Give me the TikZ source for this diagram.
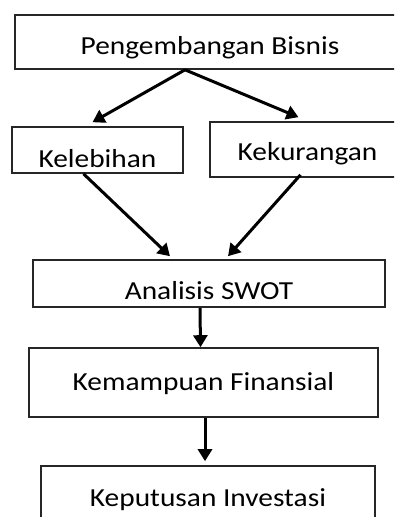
\documentclass[tikz,border=0pt]{standalone}
\usepackage{fontspec}
\setmainfont{Carlito}[FakeStretch=1.13]
\usetikzlibrary{arrows.meta}

\begin{document}
\begin{tikzpicture}[x=1pt,y=-1pt]

        \useasboundingbox (0,0) rectangle (394,517);
        \clip (0,0) rectangle (394,517);

        \begin{scope}[every node/.style={draw=black!85, line width=1.6pt, inner sep=0pt, text depth=0pt,
            font=\fontsize{26}{30}\selectfont}]
          \node[minimum width=390pt, minimum height=54pt, text height=24pt] (1) at (210,42)    {Pengembangan Bisnis};
          \node[minimum width=171pt, minimum height=46pt, text height=34pt] (2) at (97.5,150)  {Kelebihan};
          \node[minimum width=195pt, minimum height=55pt, text height=21pt] (3) at (307.5,149.5) {Kekurangan};
          \node[minimum width=352pt, minimum height=47pt, text height=31pt] (4) at (209,283.5) {Analisis SWOT};
          \node[minimum width=349pt, minimum height=69pt, text height=15pt] (5) at (203.5,382.5) {Kemampuan Finansial};
          \node[minimum width=334pt, minimum height=64pt, text height=17pt] (6) at (208,498)   {Keputusan Investasi};
        \end{scope}

        \begin{scope}[every path/.style={draw, line width=3pt, -{Triangle[length=12pt,width=14pt]}}]
          \path ([xshift=-25pt]1.south) -- ([xshift=-5pt,yshift=4pt]2.north);
          \path ([xshift=-25pt]1.south) -- ([xshift=-9pt,yshift=4pt]3.north);
          \path ([xshift=-14pt]2.south) -- ([xshift=-39pt,yshift=3pt]4.north);
          \path ([xshift=-7pt,yshift=3pt]3.south) -- ([xshift=19pt,yshift=3pt]4.north);
          \path ([xshift=-9pt]4.south) -- ([xshift=-3pt]5.north);
          \path ([xshift=1.5pt]5.south) -- ([xshift=-3pt,yshift=4pt]6.north);
        \end{scope}

      \end{tikzpicture}
\end{document}
